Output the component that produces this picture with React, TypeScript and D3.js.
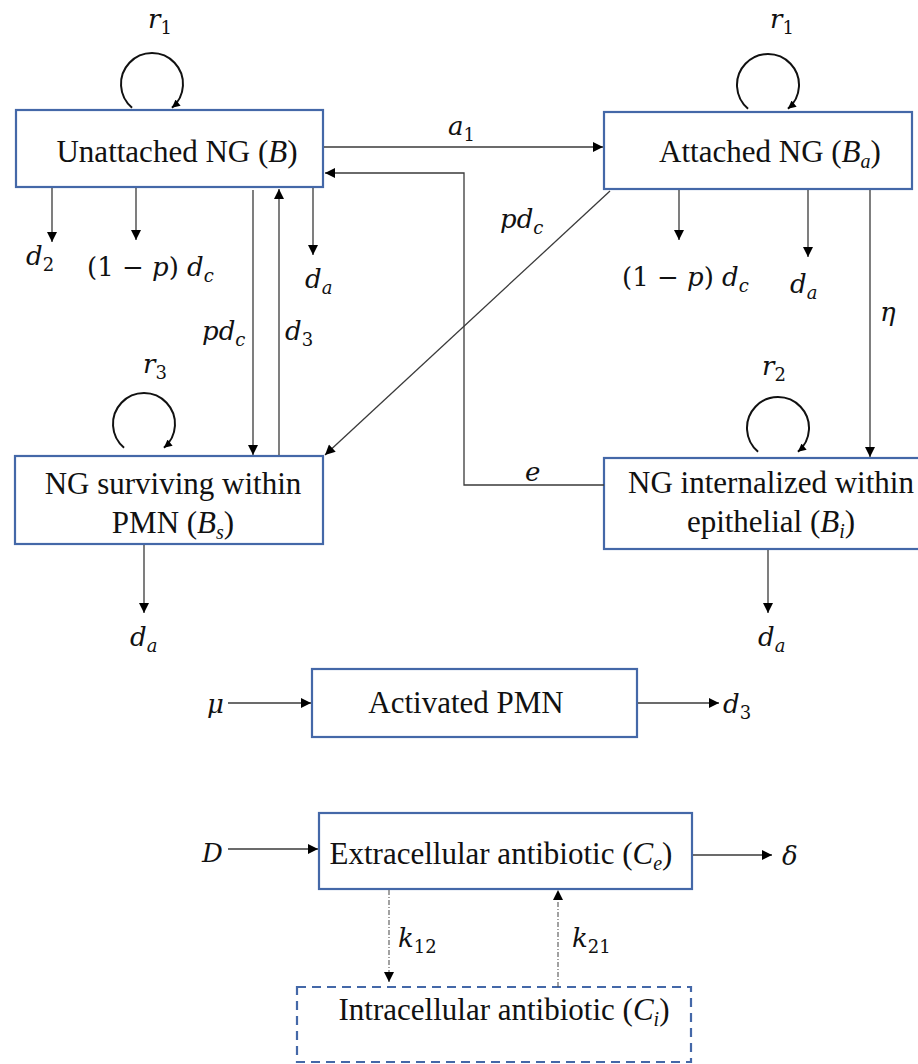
import React, { useEffect, useRef } from 'react';
import * as d3 from 'd3';

type Seg = [string, string]; // [text, kind] kind: r roman, i italic, si italic subscript, sr roman subscript

// ---------- content ----------
const compartmentIds = ['B', 'Ba', 'Bs', 'Bi', 'PMN', 'Ce', 'Ci'];
const compartmentLabels: Seg[][][] = [
  [[['Unattached NG (', 'r'], ['B', 'i'], [')', 'r']]],
  [[['Attached NG (', 'r'], ['B', 'i'], ['a', 'si'], [')', 'r']]],
  [[['NG surviving within', 'r']], [['PMN (', 'r'], ['B', 'i'], ['s', 'si'], [')', 'r']]],
  [[['NG internalized within', 'r']], [['epithelial (', 'r'], ['B', 'i'], ['i', 'si'], [')', 'r']]],
  [[['Activated PMN', 'r']]],
  [[['Extracellular antibiotic (', 'r'], ['C', 'i'], ['e', 'si'], [')', 'r']]],
  [[['Intracellular antibiotic (', 'r'], ['C', 'i'], ['i', 'si'], [')', 'r']]],
];
const compartmentDashed = [false, false, false, false, false, false, true];

const loopNodes = ['B', 'Ba', 'Bs', 'Bi'];
const loopLabels: Seg[][] = [
  [['r', 'i'], ['1', 'sr']],
  [['r', 'i'], ['1', 'sr']],
  [['r', 'i'], ['3', 'sr']],
  [['r', 'i'], ['2', 'sr']],
];

const flowIds = ['d2B', 'lossB', 'daB', 'B_Bs', 'Bs_B', 'B_Ba', 'Bi_B', 'Ba_Bs', 'lossBa', 'daBa', 'Ba_Bi',
  'daBs', 'daBi', 'muIn', 'd3Out', 'DIn', 'deltaOut', 'k12', 'k21'];
const flowLabels: Seg[][] = [
  [['d', 'i'], ['2', 'sr']],
  [['(1 − ', 'r'], ['p', 'i'], [') ', 'r'], ['d', 'i'], ['c', 'si']],
  [['d', 'i'], ['a', 'si']],
  [['p', 'i'], ['d', 'i'], ['c', 'si']],
  [['d', 'i'], ['3', 'sr']],
  [['a', 'i'], ['1', 'sr']],
  [['e', 'i']],
  [['p', 'i'], ['d', 'i'], ['c', 'si']],
  [['(1 − ', 'r'], ['p', 'i'], [') ', 'r'], ['d', 'i'], ['c', 'si']],
  [['d', 'i'], ['a', 'si']],
  [['η', 'i']],
  [['d', 'i'], ['a', 'si']],
  [['d', 'i'], ['a', 'si']],
  [['μ', 'i']],
  [['d', 'i'], ['3', 'sr']],
  [['D', 'i']],
  [['δ', 'i']],
  [['k', 'i'], ['12', 'sr']],
  [['k', 'i'], ['21', 'sr']],
];
const flowDashDot = ['k12', 'k21'];

// ---------- layout ----------
const boxLayout: Record<string, { x: number; y: number; w: number; h: number; tx: number; lines: number[] }> = {
  B: { x: 16, y: 110, w: 307, h: 77, tx: 177, lines: [162] },
  Ba: { x: 604, y: 112, w: 308, h: 77, tx: 770, lines: [162] },
  Bs: { x: 15, y: 456, w: 308, h: 88, tx: 173, lines: [494, 533] },
  Bi: { x: 604, y: 458, w: 330, h: 91, tx: 771, lines: [493, 532] },
  PMN: { x: 312, y: 669, w: 325, h: 68, tx: 466, lines: [713] },
  Ce: { x: 319, y: 813, w: 373, h: 76, tx: 501, lines: [864] },
  Ci: { x: 297, y: 987, w: 394, h: 75, tx: 504, lines: [1020] },
};

const loopLayout: Record<string, { cx: number; cy: number; lx: number; ly: number }> = {
  B: { cx: 152, cy: 84, lx: 148, ly: 28 },
  Ba: { cx: 768, cy: 85, lx: 770, ly: 28 },
  Bs: { cx: 144, cy: 424, lx: 143, ly: 373 },
  Bi: { cx: 778, cy: 428, lx: 762, ly: 375 },
};

const flowLayout: Record<string, { pts: [number, number][]; lx: number; ly: number }> = {
  d2B: { pts: [[52, 188], [52, 242]], lx: 26, ly: 265 },
  lossB: { pts: [[136, 188], [136, 240]], lx: 87, ly: 276 },
  daB: { pts: [[313, 188], [313, 255]], lx: 305, ly: 288 },
  B_Bs: { pts: [[253, 190], [253, 455]], lx: 202, ly: 340 },
  Bs_B: { pts: [[279, 455], [279, 189]], lx: 285, ly: 340 },
  B_Ba: { pts: [[324, 147], [603, 147]], lx: 448, ly: 135 },
  Bi_B: { pts: [[604, 485], [464, 485], [464, 173], [325, 173]], lx: 525, ly: 481 },
  Ba_Bs: { pts: [[610, 191], [325, 455]], lx: 500, ly: 228 },
  lossBa: { pts: [[679, 190], [679, 240]], lx: 622, ly: 286 },
  daBa: { pts: [[808, 190], [808, 257]], lx: 790, ly: 293 },
  Ba_Bi: { pts: [[870, 190], [870, 457]], lx: 880, ly: 321 },
  daBs: { pts: [[144, 545], [144, 613]], lx: 130, ly: 646 },
  daBi: { pts: [[768, 550], [768, 613]], lx: 758, ly: 646 },
  muIn: { pts: [[228, 703], [311, 703]], lx: 207, ly: 713 },
  d3Out: { pts: [[638, 703], [719, 703]], lx: 723, ly: 713 },
  DIn: { pts: [[228, 849], [318, 849]], lx: 202, ly: 862 },
  deltaOut: { pts: [[693, 855], [772, 855]], lx: 782, ly: 865 },
  k12: { pts: [[389, 890], [389, 982]], lx: 398, ly: 947 },
  k21: { pts: [[558, 987], [558, 890]], lx: 572, ly: 947 },
};

const BOX_COLOR = '#4468a8';
const LINE_COLOR = '#3a3a3a';
const TEXT_FONT = '"Liberation Serif", "Times New Roman", serif';
const MATH_FONT = '"DejaVu Serif", serif';

function richText(
  g: d3.Selection<SVGGElement, unknown, null, undefined>,
  segs: Seg[], x: number, y: number, anchor: string,
  family: string, size: number, subSize: number, shift: number
) {
  const t = g.append('text')
    .attr('x', x).attr('y', y)
    .attr('text-anchor', anchor)
    .attr('font-family', family)
    .attr('fill', '#111')
    .style('white-space', 'pre');
  let prevSub = false;
  segs.forEach(([txt, kind]) => {
    const sub = kind === 'si' || kind === 'sr';
    const italic = kind === 'i' || kind === 'si';
    const dy = (sub ? shift : 0) - (prevSub ? shift : 0);
    t.append('tspan')
      .attr('dy', dy)
      .attr('font-size', sub ? subSize : size)
      .attr('font-style', italic ? 'italic' : 'normal')
      .text(txt);
    prevSub = sub;
  });
}

export default function App() {
  const ref = useRef<SVGSVGElement | null>(null);

  useEffect(() => {
    const svg = d3.select(ref.current!);
    svg.selectAll('*').remove();

    const defs = svg.append('defs');
    defs.append('marker')
      .attr('id', 'ah').attr('viewBox', '0 0 10 10')
      .attr('refX', 10).attr('refY', 5)
      .attr('markerWidth', 11).attr('markerHeight', 10)
      .attr('markerUnits', 'userSpaceOnUse')
      .attr('orient', 'auto')
      .append('path').attr('d', 'M0,0L10,5L0,10Z').attr('fill', '#000');
    defs.append('marker')
      .attr('id', 'ahs').attr('viewBox', '0 0 10 10')
      .attr('refX', 10).attr('refY', 5)
      .attr('markerWidth', 9).attr('markerHeight', 8)
      .attr('markerUnits', 'userSpaceOnUse')
      .attr('orient', 'auto')
      .append('path').attr('d', 'M0,0L10,5L0,10Z').attr('fill', '#000');

    const root = svg.append('g') as unknown as d3.Selection<SVGGElement, unknown, null, undefined>;

    // boxes
    compartmentIds.forEach((id, i) => {
      const b = boxLayout[id];
      root.append('rect')
        .attr('x', b.x).attr('y', b.y).attr('width', b.w).attr('height', b.h)
        .attr('fill', '#fff')
        .attr('stroke', BOX_COLOR).attr('stroke-width', 2.2)
        .attr('stroke-dasharray', compartmentDashed[i] ? '9,6' : null);
      compartmentLabels[i].forEach((line, j) => {
        richText(root, line, b.tx, b.lines[j], 'middle', TEXT_FONT, 31, 20, 6);
      });
    });

    // flows
    const line = d3.line<[number, number]>();
    flowIds.forEach((id, i) => {
      const f = flowLayout[id];
      const dd = flowDashDot.includes(id);
      root.append('path')
        .attr('d', line(f.pts))
        .attr('fill', 'none')
        .attr('stroke', dd ? '#555' : LINE_COLOR)
        .attr('stroke-width', dd ? 1.1 : 1.3)
        .attr('stroke-dasharray', dd ? '5,2,1,2' : null)
        .attr('marker-end', 'url(#ah)');
      richText(root, flowLabels[i], f.lx, f.ly, 'start', MATH_FONT, 26, 18, 6);
    });

    // growth loops
    const r = 31;
    const gap = (40 * Math.PI) / 180;
    loopNodes.forEach((id, i) => {
      const L = loopLayout[id];
      const p = d3.path();
      const a0 = Math.PI / 2 + gap;
      const a1 = Math.PI / 2 - gap + 2 * Math.PI;
      p.moveTo(L.cx + r * Math.cos(a0), L.cy + r * Math.sin(a0));
      p.arc(L.cx, L.cy, r, a0, a1, false);
      root.append('path')
        .attr('d', p.toString())
        .attr('fill', 'none')
        .attr('stroke', '#111')
        .attr('stroke-width', 2)
        .attr('marker-end', 'url(#ahs)');
      richText(root, loopLabels[i], L.lx, L.ly, 'start', MATH_FONT, 26, 18, 6);
    });
  }, []);

  return (
    <svg
      ref={ref}
      width={918}
      height={1064}
      style={{ position: 'absolute', left: 0, top: 0, background: '#fff' }}
    />
  );
}
